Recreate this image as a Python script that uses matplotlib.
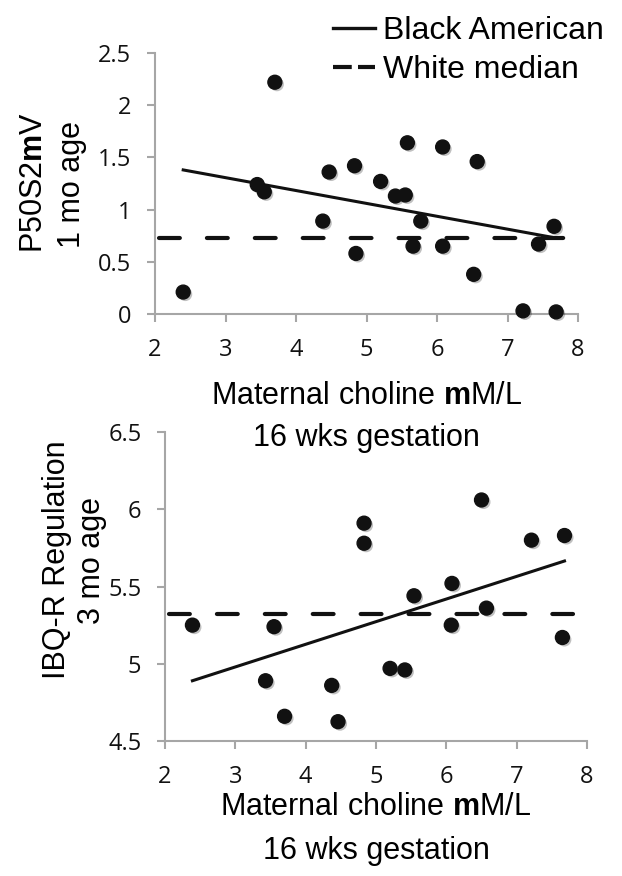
import numpy as np
import matplotlib
matplotlib.use("Agg")
import matplotlib.pyplot as plt
from matplotlib.lines import Line2D
import matplotlib.patheffects as pe

# Шрифты
plt.rcParams['font.family'] = ['Liberation Sans', 'DejaVu Sans']
plt.rcParams['mathtext.fontset'] = 'custom'
plt.rcParams['mathtext.rm'] = 'Liberation Sans'
plt.rcParams['mathtext.bf'] = 'Liberation Sans:bold'

# Данные: верхний график (P50S2 mV, 1 мес.)
choline_top = [2.40, 3.70, 3.45, 3.55, 4.38, 4.47, 4.83, 4.85, 5.20, 5.41, 5.55,
               5.58, 5.66, 5.77, 6.08, 6.08, 6.57, 6.52, 7.22, 7.44, 7.66, 7.69]
p50_top = [0.21, 2.22, 1.24, 1.17, 0.89, 1.36, 1.42, 0.58, 1.27, 1.13, 1.14,
           1.64, 0.65, 0.89, 1.60, 0.65, 1.46, 0.38, 0.03, 0.67, 0.84, 0.02]
trend_top_x = [2.40, 7.63]
trend_top_y = [1.38, 0.735]
median_top = 0.73

# Данные: нижний график (IBQ-R Regulation, 3 мес.)
choline_bot = [2.39, 3.55, 3.43, 3.70, 4.37, 4.46, 4.83, 4.83, 5.20, 5.41, 5.54,
               6.08, 6.07, 6.50, 6.57, 7.21, 7.68, 7.65]
ibq_bot = [5.25, 5.24, 4.89, 4.66, 4.86, 4.625, 5.91, 5.78, 4.97, 4.96, 5.44,
           5.52, 5.25, 6.06, 5.36, 5.80, 5.83, 5.17]
trend_bot_x = [2.39, 7.68]
trend_bot_y = [4.89, 5.665]
median_bot = 5.325

median_x = [2.06, 7.80]
x_ticks = [2, 3, 4, 5, 6, 7, 8]

spine_col = '#a6a6a6'
tick_font = ['Open Sans', 'Liberation Sans', 'DejaVu Sans']

W, H = 622, 876
fig = plt.figure(figsize=(W / 100, H / 100), dpi=100)


def px_axes(x0, x1, ytop, ybot):
    return fig.add_axes([x0 / W, 1 - ybot / H, (x1 - x0) / W, (ybot - ytop) / H])


def px_text(x, y, s, **kw):
    # подпись по пиксельным координатам (отсчёт сверху)
    fig.text(x / W, 1 - y / H, s, **kw)


def style_axes(ax, yticks, ylim):
    ax.set_xlim(2, 8)
    ax.set_ylim(*ylim)
    ax.set_xticks(x_ticks)
    ax.set_yticks(yticks)
    ax.set_xticklabels([str(t) for t in x_ticks])
    ax.set_yticklabels([f"{t:g}" for t in yticks])
    ax.patch.set_alpha(0)
    for s in ['top', 'right']:
        ax.spines[s].set_visible(False)
    for s in ['left', 'bottom']:
        ax.spines[s].set_color(spine_col)
        ax.spines[s].set_linewidth(1.5)
    ax.tick_params(axis='both', direction='out', length=6, width=1.5,
                   color=spine_col, labelcolor='#111111', labelsize=17)
    ax.tick_params(axis='x', pad=11)
    ax.tick_params(axis='y', pad=11)
    for lab in ax.get_xticklabels() + ax.get_yticklabels():
        lab.set_family(tick_font)


def draw_points(ax, x, y):
    ax.scatter(x, y, s=100, color='#111111', zorder=4, clip_on=False,
               path_effects=[pe.SimplePatchShadow(offset=(1.5, -1.5), alpha=0.25),
                             pe.Normal()])


def draw_lines(ax, tx, ty, med):
    ax.plot(median_x, [med, med], color='#111111', lw=3,
            dashes=(5, 6.5), dash_capstyle='round', zorder=3)
    ax.plot(tx, ty, color='#111111', lw=2.2, zorder=3)


ylab_kw = dict(rotation=90, rotation_mode='anchor', ha='center', va='baseline',
               fontsize=22)

# Верхний график
ax1 = px_axes(155, 578, 53, 314)
style_axes(ax1, [0, 0.5, 1, 1.5, 2, 2.5], (0, 2.5))
draw_lines(ax1, trend_top_x, trend_top_y, median_top)
draw_points(ax1, choline_top, p50_top)
px_text(42, 183, "P50S2$\\mathbf{m}$V", **ylab_kw)
px_text(80, 185, "1 mo age", **ylab_kw)
ax1.text(0.5, -0.395, "Maternal choline $\\mathbf{m}$M/L\n16 wks gestation",
         transform=ax1.transAxes, ha='center', va='center',
         multialignment='center', fontsize=22, linespacing=1.5)

# Нижний график
ax2 = px_axes(165, 587, 432, 741)
style_axes(ax2, [4.5, 5, 5.5, 6, 6.5], (4.5, 6.5))
draw_lines(ax2, trend_bot_x, trend_bot_y, median_bot)
draw_points(ax2, choline_bot, ibq_bot)
px_text(65, 560, "IBQ-R Regulation", **ylab_kw)
px_text(100, 560, "3 mo age", **ylab_kw)
ax2.text(0.5, -0.285, "Maternal choline $\\mathbf{m}$M/L\n16 wks gestation",
         transform=ax2.transAxes, ha='center', va='center',
         multialignment='center', fontsize=22, linespacing=1.58)

# Легенда
h_black = Line2D([], [], color='#111111', lw=2.4)
h_white = Line2D([], [], color='#111111', lw=3, dashes=(4.5, 1.5))
fig.legend([h_black, h_white], ["Black American", "White median"],
           loc='upper left', bbox_to_anchor=(333 / W, 1 - 16 / H),
           frameon=False, fontsize=23, handlelength=1.3, handletextpad=0.25,
           labelspacing=0.29, borderpad=0, borderaxespad=0)

fig.savefig("out.png", dpi=100)
